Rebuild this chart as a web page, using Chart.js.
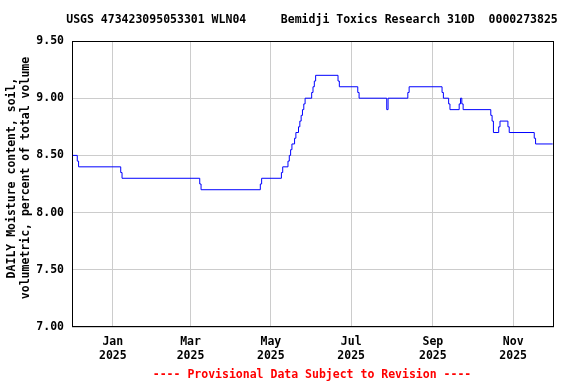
<!DOCTYPE html>
<html>
<head>
<meta charset="utf-8">
<script src="https://cdn.jsdelivr.net/npm/chart.js@4/dist/chart.umd.min.js"></script>
<style>
  html, body { margin: 0; padding: 0; background: #ffffff; }
  #wrap { width: 576px; height: 384px; }
</style>
</head>
<body>
<div id="wrap"><canvas id="grafico" width="576" height="384"></canvas></div>
<script>
// Dias desde 1 dic 2024 en que cambia el valor (linea escalonada)
const dias = [0, 4, 5, 37, 38, 97, 98, 143, 144, 159, 160, 164, 165, 166, 167, 169, 170, 172, 173, 174, 175, 176, 177,
  182, 183, 184, 185, 202, 203, 217, 218, 239, 240, 255, 256, 281, 282, 286, 287, 294, 295, 296, 297,
  318, 319, 320, 324, 325, 331, 332, 351, 352, 365];
const humedad = [8.5, 8.45, 8.4, 8.35, 8.3, 8.25, 8.2, 8.25, 8.3, 8.35, 8.4, 8.45, 8.5, 8.55, 8.6, 8.65, 8.7, 8.75, 8.8, 8.85, 8.9, 8.95, 9.0,
  9.05, 9.1, 9.15, 9.2, 9.15, 9.1, 9.05, 9.0, 8.9, 9.0, 9.05, 9.1, 9.05, 9.0, 8.95, 8.9, 8.95, 9.0, 8.95, 8.9,
  8.85, 8.8, 8.7, 8.75, 8.8, 8.75, 8.7, 8.65, 8.6, 8.6];

// Marcas del eje x (primer dia de cada mes par)
const diasTicks = [31, 90, 151, 212, 274, 335];
const etiquetasTicks = [['Jan', '2025'], ['Mar', '2025'], ['May', '2025'], ['Jul', '2025'], ['Sep', '2025'], ['Nov', '2025']];
const ticksY = [7.0, 7.5, 8.0, 8.5, 9.0, 9.5];

const titulo = 'USGS 473423095053301 WLN04     Bemidji Toxics Research 310D  0000273825';
const tituloEjeY = ['DAILY Moisture content, soil,', 'volumetric, percent of total volume'];
const pie = '---- Provisional Data Subject to Revision ----';

const fuente = 'DejaVu Sans Mono';

// Textos y marco del grafico
const textosPlugin = {
  id: 'textos',
  afterDraw(chart) {
    const ctx = chart.ctx;
    const area = chart.chartArea;
    ctx.save();
    ctx.strokeStyle = '#000000';
    ctx.lineWidth = 1;
    ctx.strokeRect(Math.round(area.left) + 0.5, Math.round(area.top) + 0.5,
      Math.round(area.right - area.left) - 1, Math.round(area.bottom - area.top) - 1);

    ctx.font = 'bold 11.5px "' + fuente + '"';
    ctx.textAlign = 'center';
    ctx.textBaseline = 'middle';
    ctx.fillStyle = '#000000';
    ctx.fillText(titulo, 312, 20);

    ctx.fillStyle = '#ff0000';
    ctx.fillText(pie, 312, 375);

    ctx.fillStyle = '#000000';
    ctx.translate(0, 178);
    ctx.rotate(-Math.PI / 2);
    ctx.fillText(tituloEjeY[0], 0, 12);
    ctx.fillText(tituloEjeY[1], 0, 26);
    ctx.restore();
  }
};

function crearGrafico() {
  const ctx = document.getElementById('grafico');
  const puntos = dias.map((d, i) => ({ x: d, y: humedad[i] }));

  new Chart(ctx, {
    type: 'line',
    data: {
      datasets: [{
        data: puntos,
        borderColor: '#0000ff',
        borderWidth: 1,
        pointRadius: 0,
        stepped: 'before',
        fill: false
      }]
    },
    options: {
      responsive: false,
      maintainAspectRatio: false,
      animation: false,
      layout: { padding: { left: 0, top: 41, right: 22, bottom: 0 } },
      plugins: {
        legend: { display: false },
        tooltip: { enabled: false }
      },
      scales: {
        x: {
          type: 'linear',
          min: 0,
          max: 366,
          afterBuildTicks: (scale) => { scale.ticks = diasTicks.map(v => ({ value: v })); },
          afterFit: (scale) => { scale.height = 57; },
          border: { display: false },
          grid: { color: '#cccccc', lineWidth: 1, drawTicks: false },
          ticks: {
            padding: 8,
            maxRotation: 0,
            autoSkip: false,
            color: '#000000',
            font: { family: fuente, size: 11.5, weight: 'bold', lineHeight: 1.22 },
            callback: (v) => {
              const i = diasTicks.indexOf(v);
              return i >= 0 ? etiquetasTicks[i] : '';
            }
          }
        },
        y: {
          min: 7.0,
          max: 9.5,
          afterBuildTicks: (scale) => { scale.ticks = ticksY.map(v => ({ value: v })); },
          afterFit: (scale) => { scale.width = 72; },
          border: { display: false },
          grid: { color: '#cccccc', lineWidth: 1, drawTicks: false },
          ticks: {
            padding: 8,
            color: '#000000',
            font: { family: fuente, size: 11.5, weight: 'bold' },
            callback: (v) => Number(v).toFixed(2)
          }
        }
      }
    },
    plugins: [textosPlugin]
  });
}

crearGrafico();
</script>
</body>
</html>
